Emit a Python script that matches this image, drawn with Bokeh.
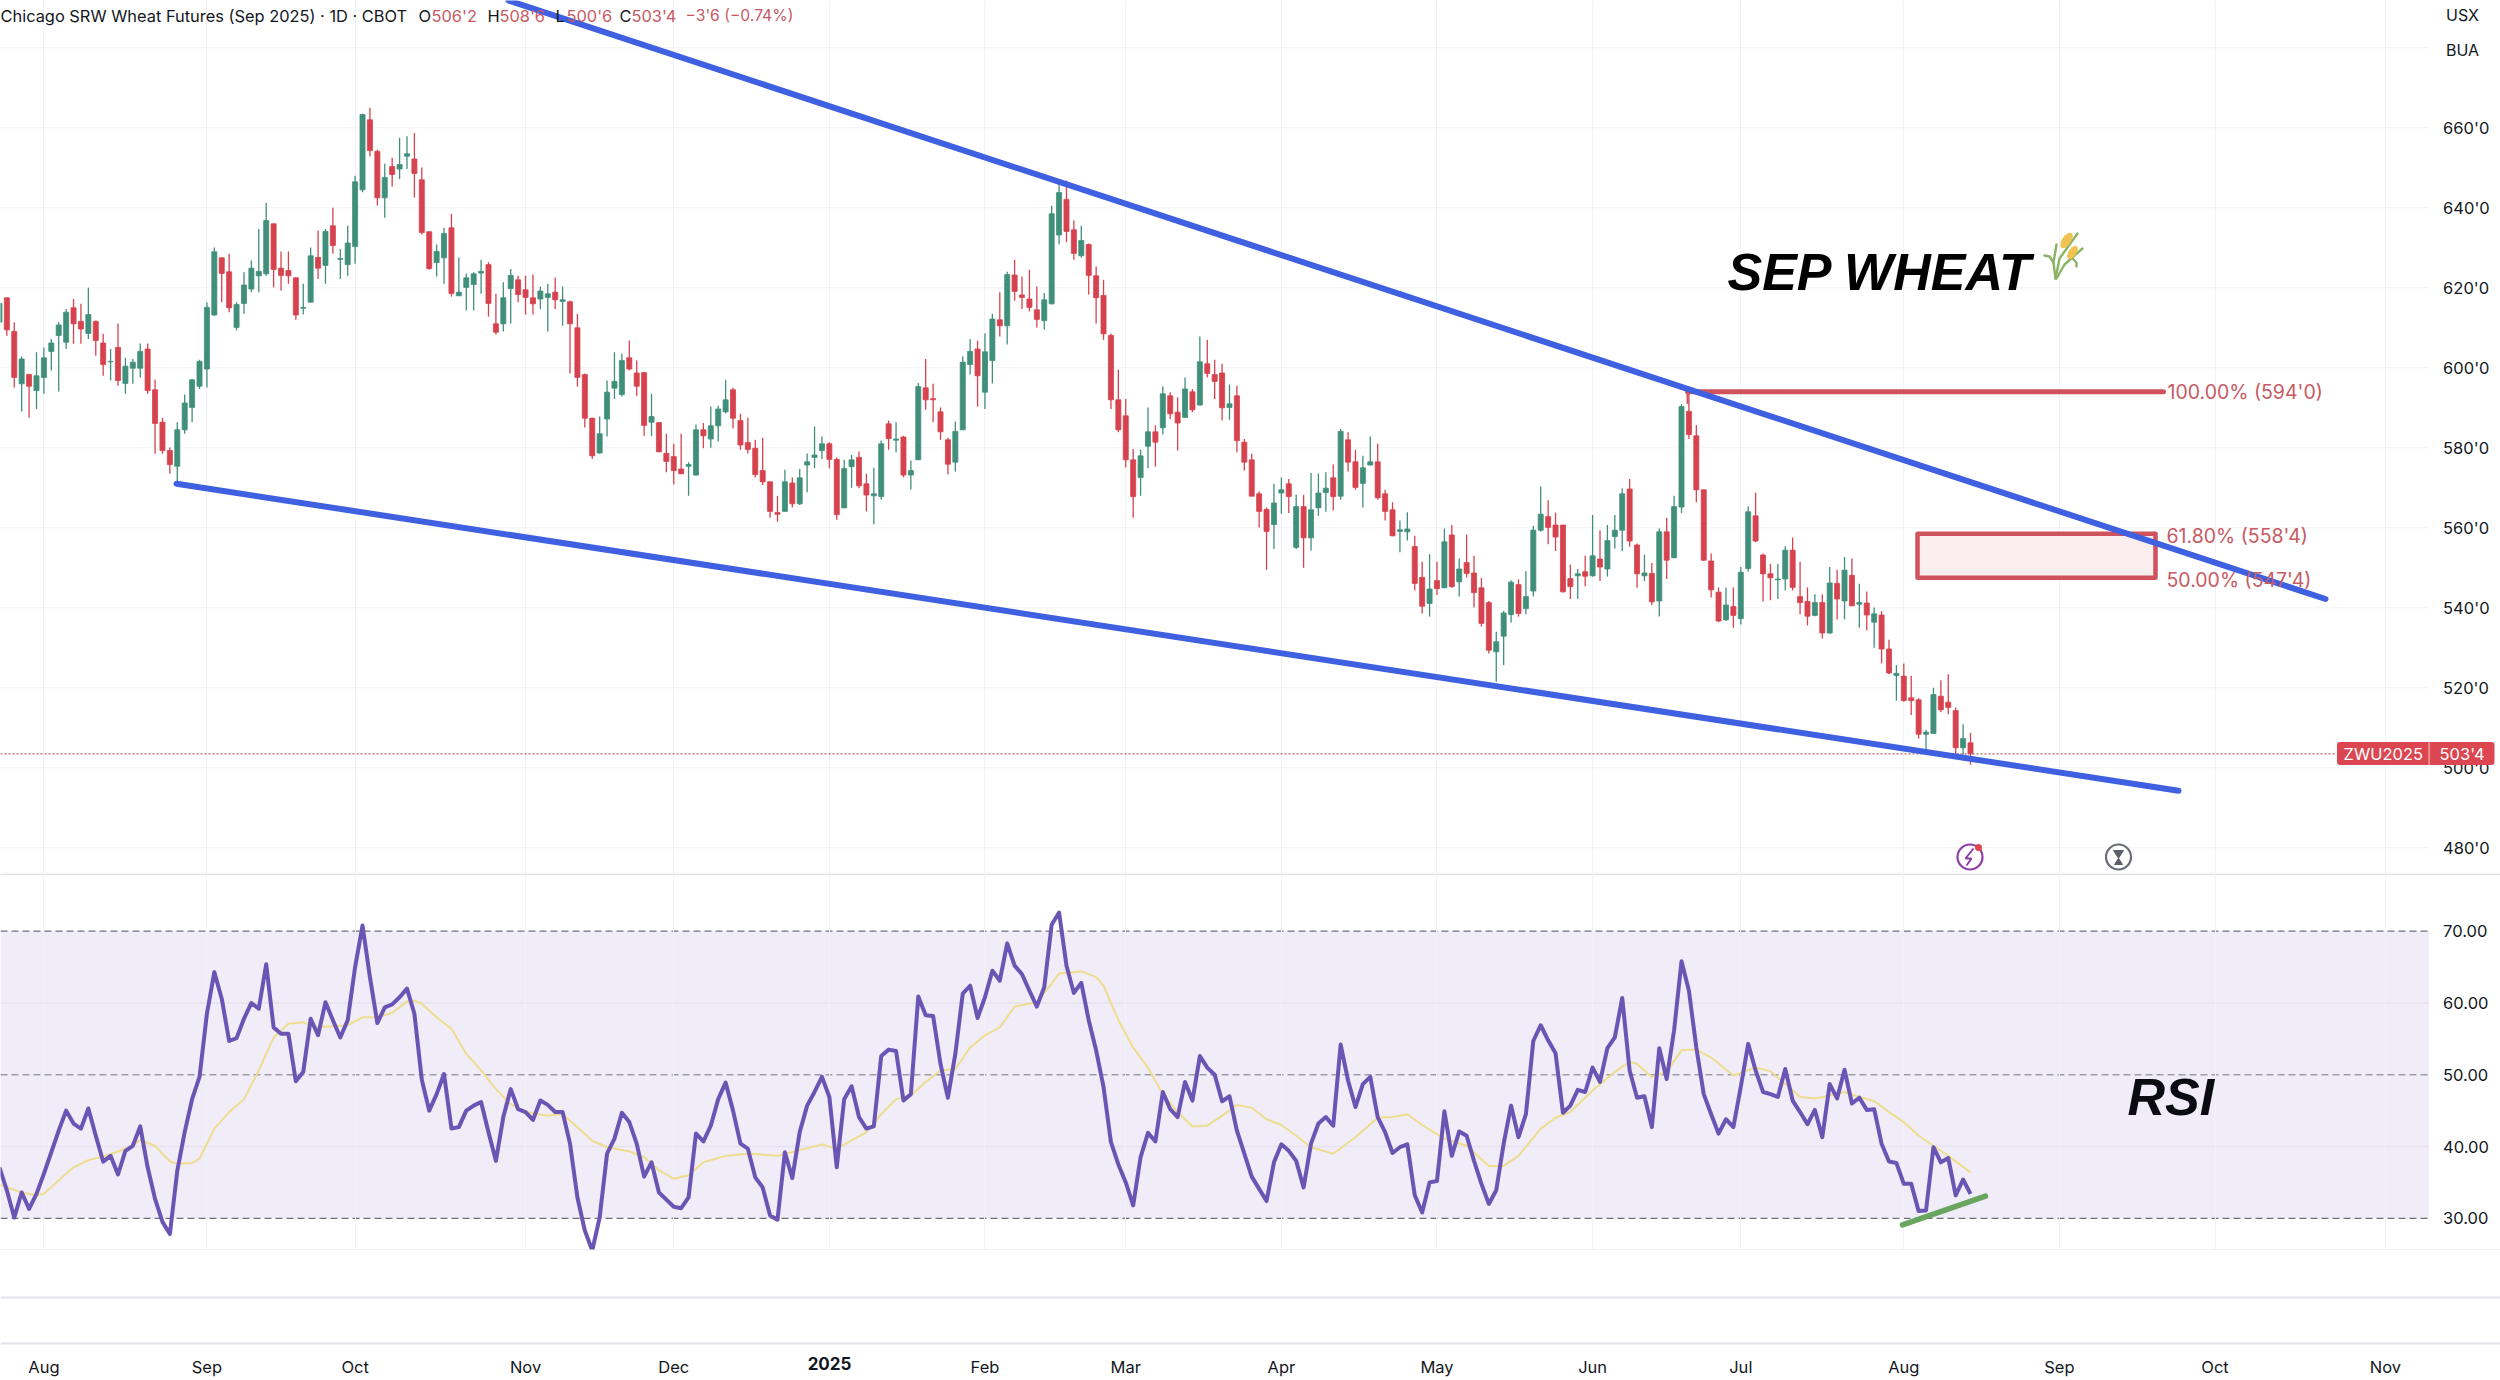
from bokeh.plotting import figure
from bokeh.layouts import column
from bokeh.models import ColumnDataSource, FixedTicker, Label, BoxAnnotation, Range1d
from bokeh.embed import file_html
from bokeh.resources import INLINE

# ------------------------------------------------------------------ data
first_bar = -1
up = ("G" "RRGRGGGGGR" "RGRRGRGGGR" "RRRGGGGGGR" "RGGGGGRRRR" "GGRGRGGGGR" "RGRGGRRRGG" "RGGGGRRGGR"
      "RRGGRGRRRR" "GGGGRRRGRR" "RRGGRGGGRR" "RRRRRGRGGG" "GRRGGRRGGR" "GRGGRRRRGG" "GRGGRGRRRR"
      "GGGRRGRRRR" "RRRGGRGRRG" "RGRRRGRRRR" "RGGRGRGGGR" "GRRGGRRRGG" "RRGRGRGRRR" "RGGGRGGGRR"
      "RRGRGRGGGR" "RGRGRGGRRR" "RRGRGGRRRG" "GRRRGRGRGR" "GRGRRGRRRG" "GRRRGR")
highs = [617.0,
 617.6,611.4,602.8,598.5,603.9,605.1,607.2,611.4,614.7,617.2,
 616.0,620.0,611.8,608.5,604.7,611.1,602.5,602.2,606.1,606.1,
 597.0,587.5,580.1,586.4,593.3,597.2,602.0,616.4,630.1,627.6,
 628.5,616.4,623.9,626.8,634.7,641.2,636.1,629.1,629.1,622.6,
 621.0,630.1,634.3,634.7,640.0,629.7,635.5,648.0,663.5,665.0,
 654.5,651.0,652.5,657.5,657.9,658.7,650.1,634.1,630.8,635.0,
 638.5,627.6,623.6,623.9,627.0,626.4,618.5,621.4,624.7,623.0,
 623.0,623.3,620.3,621.0,622.6,620.3,616.8,613.5,598.6,587.5,
 587.8,596.8,603.9,603.6,606.8,601.8,598.9,593.5,586.4,583.5,
 581.0,583.5,576.4,585.8,586.2,590.3,590.5,597.0,595.0,588.5,
 587.5,582.0,582.5,571.6,568.0,574.5,572.6,574.7,578.6,585.3,
 582.8,581.4,577.6,577.0,578.2,579.1,573.5,575.0,581.8,586.8,
 586.4,583.0,576.8,596.2,602.2,596.0,590.1,582.5,586.6,602.9,
 607.2,606.8,608.6,613.5,618.9,624.0,627.0,622.8,624.5,620.3,
 618.7,640.5,646.8,646.8,636.8,635.5,631.1,625.3,622.0,608.5,
 599.5,592.2,579.7,579.5,590.1,585.6,595.3,593.9,592.6,597.6,
 594.7,607.8,607.0,602.0,601.0,595.8,595.5,582.2,578.5,569.1,
 565.1,571.0,572.6,572.2,568.3,568.2,573.7,573.6,573.9,575.8,
 584.7,583.9,579.5,578.0,582.8,581.0,569.5,566.4,561.8,563.9,
 558.0,551.5,553.4,551.5,559.8,560.7,552.3,558.3,553.0,547.5,
 541.7,534.0,539.2,546.9,547.1,549.2,560.5,570.3,566.9,563.8,
 560.7,550.8,549.7,553.0,563.2,559.4,560.7,563.2,569.8,572.2,
 556.1,553.3,551.2,559.8,562.5,568.0,590.9,594.0,585.7,569.5,
 553.6,545.1,545.1,545.1,550.2,565.4,568.8,553.6,551.0,551.0,
 555.4,557.6,551.5,545.1,543.4,543.3,550.2,549.5,552.7,552.3,
 546.0,544.1,540.1,539.2,532.0,525.7,526.1,523.0,517.4,509.5,
 520.0,521.9,523.4,515.1,510.9,508.75]
body_tops = [616.1,
 617.5,609.1,602.2,598.3,598.0,602.5,606.2,610.7,613.9,615.0,
 611.6,613.3,611.6,606.2,601.6,605.1,600.4,601.4,604.1,604.7,
 594.5,586.4,579.3,584.5,591.2,597.0,601.6,615.1,629.0,627.5,
 624.0,615.8,620.7,624.9,624.1,636.8,636.0,624.9,624.3,622.5,
 615.1,628.0,627.6,634.1,635.5,627.3,631.2,646.5,663.3,662.0,
 654.1,647.6,650.3,650.8,653.5,652.2,647.0,634.0,629.1,633.6,
 635.0,618.9,622.5,623.5,624.1,625.8,611.0,617.5,623.1,622.0,
 619.5,617.5,619.2,618.5,618.9,617.0,616.5,610.0,598.3,587.4,
 583.5,593.9,596.6,601.8,602.5,598.7,598.8,587.8,586.3,578.6,
 577.8,574.7,575.8,584.5,584.5,585.5,589.7,592.0,594.5,586.8,
 581.3,579.9,574.3,571.5,563.8,571.5,571.2,572.5,576.5,578.2,
 581.0,581.0,577.1,574.8,577.0,577.6,571.0,568.5,581.0,586.0,
 582.2,582.7,574.3,595.3,595.0,592.3,589.0,582.0,584.1,601.4,
 604.1,604.7,604.0,612.2,612.0,623.3,623.2,618.2,617.2,614.5,
 617.0,638.5,643.8,642.1,634.5,631.8,630.8,623.0,618.1,608.1,
 592.0,588.0,577.0,578.0,584.0,584.0,593.5,593.0,588.9,594.7,
 594.0,601.5,601.0,598.3,598.7,591.0,593.0,581.4,577.0,568.5,
 564.6,566.2,569.5,571.0,565.3,565.3,564.5,568.7,569.9,572.5,
 584.1,582.0,576.5,575.0,576.5,576.5,568.5,564.5,559.5,559.7,
 555.3,547.6,544.7,546.8,556.5,558.2,549.7,551.3,548.7,545.0,
 541.3,531.5,538.7,546.4,545.8,542.8,559.4,563.4,562.8,560.7,
 560.7,547.3,548.5,549.0,553.0,552.2,556.8,559.4,568.5,569.7,
 555.7,548.7,548.6,559.0,559.0,565.3,590.3,589.1,583.0,569.5,
 551.7,543.9,540.7,540.3,548.9,564.0,563.0,553.2,548.5,547.2,
 554.4,554.4,542.8,541.6,541.3,541.3,546.2,546.1,549.4,548.1,
 541.3,541.2,538.5,538.2,529.7,523.6,522.9,517.5,517.0,508.9,
 518.3,517.9,516.4,514.3,507.3,506.25]
body_bottoms = [611.4,
 609.5,597.6,596.0,595.4,594.3,597.6,604.1,608.1,606.4,611.0,
 609.7,608.6,606.8,600.8,601.5,596.8,596.1,599.9,599.9,594.3,
 586.1,579.3,575.8,575.4,584.5,590.1,595.4,599.7,613.2,623.6,
 615.0,610.1,616.1,619.7,623.0,623.5,624.6,623.1,623.0,613.2,
 614.9,616.4,624.9,625.6,630.6,627.1,625.8,630.3,644.5,654.3,
 642.5,642.5,648.3,649.7,652.9,648.6,633.8,624.8,626.3,627.5,
 618.6,618.0,620.1,620.8,623.7,616.1,608.9,611.0,619.8,618.3,
 617.6,616.0,617.2,617.6,617.0,616.6,611.0,597.6,587.4,578.0,
 578.7,587.2,594.9,593.3,599.7,595.4,585.6,586.4,579.0,576.6,
 574.3,573.5,575.4,573.2,583.0,582.2,585.5,589.0,587.4,580.7,
 579.6,573.3,571.5,564.1,563.4,564.1,566.0,566.0,575.7,577.6,
 579.3,577.1,563.3,565.0,575.3,570.5,568.2,568.0,567.8,582.3,
 581.9,573.2,573.2,577.0,592.0,592.0,584.0,575.9,576.4,584.5,
 600.8,598.0,593.9,601.8,610.5,610.5,619.1,617.6,615.1,612.1,
 611.8,616.0,633.2,634.1,628.6,628.0,623.1,617.5,608.5,592.0,
 584.5,577.0,567.8,572.6,580.4,581.4,585.0,588.5,586.2,587.6,
 589.5,590.7,598.6,596.6,590.0,590.1,581.8,576.4,567.9,564.1,
 559.1,560.8,568.7,567.8,555.1,557.5,557.5,565.0,568.8,567.8,
 567.9,576.4,570.1,571.1,575.7,567.5,564.1,558.0,559.1,559.0,
 546.1,540.4,541.1,544.8,545.0,545.3,546.5,548.6,543.8,536.1,
 529.4,529.0,532.9,538.3,538.6,539.8,544.2,559.4,560.1,557.7,
 544.0,545.3,548.0,547.9,548.0,550.2,549.7,557.8,559.4,556.7,
 548.5,548.0,541.5,541.7,551.9,552.5,565.2,583.3,569.5,551.9,
 544.5,536.7,537.0,538.1,537.3,549.8,556.7,548.5,547.5,547.0,
 547.2,545.1,541.3,537.9,538.1,533.7,533.7,542.2,541.7,540.5,
 540.9,538.2,536.4,529.7,523.7,523.1,516.8,516.8,508.4,508.4,
 508.6,514.5,515.1,505.0,505.0,503.5]
lows = [610.0,
 608.0,595.1,589.1,587.5,589.7,593.5,599.3,594.1,604.7,606.0,
 606.0,607.2,603.0,598.0,596.8,595.5,593.5,596.0,597.6,593.5,
 578.5,578.5,573.5,571.4,583.5,586.4,594.7,595.1,613.0,616.4,
 613.9,609.3,613.5,618.9,618.9,623.0,620.1,619.3,621.0,612.0,
 613.3,616.3,622.2,621.0,628.5,622.2,623.0,626.0,643.9,652.8,
 640.6,637.5,645.3,647.2,649.7,642.6,633.3,624.5,622.8,621.0,
 617.8,618.0,614.3,614.3,618.5,612.8,608.3,609.1,611.1,616.4,
 613.3,613.3,614.7,609.1,614.7,610.5,598.6,595.3,585.1,577.2,
 578.5,582.8,592.2,592.8,599.3,593.0,583.0,583.0,578.9,573.9,
 570.8,573.5,568.0,573.0,579.9,580.0,581.6,588.6,584.9,579.5,
 578.6,572.6,570.7,562.5,561.5,564.1,565.1,565.7,568.9,574.9,
 577.2,574.9,562.0,564.9,570.0,569.9,564.1,560.9,567.0,579.5,
 578.9,572.6,569.6,577.0,589.5,586.4,582.0,573.3,574.1,584.5,
 598.3,590.3,589.7,596.1,607.8,605.8,616.8,614.7,614.1,610.1,
 609.6,615.8,630.9,631.4,627.0,627.6,618.3,611.1,607.0,589.7,
 583.9,575.1,562.5,568.0,574.9,575.3,583.3,587.2,579.3,587.5,
 588.9,590.5,597.6,592.2,586.8,587.0,578.9,574.3,567.9,560.1,
 549.5,554.7,563.5,563.7,554.7,550.0,554.3,563.0,564.0,564.3,
 567.0,574.1,569.5,565.1,575.6,567.0,561.8,557.9,553.9,556.8,
 544.3,538.6,537.8,543.2,545.0,545.0,542.8,547.6,540.1,535.3,
 528.6,521.5,525.7,536.3,537.8,538.4,542.8,559.0,555.9,554.2,
 543.8,542.2,542.2,545.4,547.8,546.7,547.8,554.8,554.2,555.3,
 545.0,546.7,540.7,537.8,547.2,552.5,563.7,582.2,566.4,551.7,
 542.6,536.4,536.7,535.0,535.8,549.1,556.4,541.6,541.9,542.2,
 544.3,544.3,538.4,535.6,537.9,532.3,533.5,537.1,537.1,540.5,
 535.0,534.3,530.0,526.1,523.4,516.8,516.5,513.2,507.3,503.7,
 508.5,513.9,513.4,503.3,503.3,500.75]
rsi = [37.1,
 33.9,30.1,33.6,31.3,33.4,36.2,39.2,42.2,45.0,43.2,
 42.5,45.3,41.5,37.9,38.7,36.1,39.4,40.1,42.8,37.1,
 32.7,29.5,27.8,36.6,42.0,46.6,49.7,58.5,64.3,60.6,
 54.7,55.1,57.8,60.0,59.2,65.4,56.6,55.7,55.7,49.1,
 50.4,57.8,55.5,60.1,57.6,55.2,57.6,65.0,70.8,63.6,
 57.2,59.4,59.8,60.8,62.0,58.5,49.3,45.0,47.3,50.1,
 42.5,42.7,45.0,45.7,46.2,42.0,38.0,44.1,48.0,45.2,
 44.8,43.7,46.4,45.8,44.8,44.8,40.4,32.9,28.3,25.5,
 30.1,39.0,41.1,44.7,43.4,40.4,35.8,37.8,33.6,32.6,
 31.6,31.4,32.9,41.8,40.7,42.9,46.6,48.9,45.0,40.4,
 39.7,35.7,34.3,30.4,29.8,39.2,35.6,42.0,45.7,47.6,
 49.7,46.9,37.1,46.6,48.4,44.1,42.5,42.8,52.6,53.5,
 53.3,46.4,47.3,60.9,58.3,58.2,51.5,46.8,52.9,61.3,
 62.4,57.9,60.8,64.5,63.1,68.3,65.2,64.0,61.7,59.5,
 62.2,70.9,72.6,65.2,61.4,62.8,57.6,53.4,48.3,40.6,
 37.5,35.0,31.8,38.5,41.9,40.7,47.6,45.2,44.1,49.0,
 46.4,52.6,51.0,50.0,46.3,47.0,42.2,39.0,35.8,34.1,
 32.4,37.8,40.3,39.4,38.0,34.3,40.4,43.2,44.1,42.9,
 54.2,49.2,45.5,48.7,49.7,44.1,42.0,39.1,39.9,40.3,
 33.2,30.8,35.0,35.2,44.9,38.7,42.1,41.5,38.0,34.8,
 32.0,33.9,40.4,45.7,41.3,44.5,54.7,56.9,54.8,53.0,
 44.7,45.7,47.9,47.6,51.0,49.0,53.7,55.2,60.7,50.6,
 46.8,47.0,42.7,53.7,49.4,56.2,65.8,61.7,53.8,47.3,
 44.5,41.8,43.8,42.7,48.3,54.3,50.6,47.6,47.3,46.9,
 50.8,46.4,44.8,43.1,45.1,41.3,48.7,46.7,50.7,46.0,
 46.8,45.1,45.2,40.4,37.9,37.7,34.8,34.8,31.0,31.1,
 39.9,37.8,38.4,33.2,35.4,33.4]
rsi_ma_bars = [-1,2,4,5,7,9,11,13,15,17,18,20,22,23,25,26,28,30,32,34,36,38,40,42,46,48,50,52,54,55,56,58,60,62,64,66,68,70,73,75,77,79,81,84,86,88,90,92,94,97,100,104,107,110,
 112,116,118,120,122,124,126,128,130,132,134,136,139,141,142,145,147,148,150,152,154,156,158,160,162,164,166,168,170,172,174,176,179,182,185,187,189,191,194,197,200,202,204,207,209,211,214,217,219,220,222,
 224,226,228,230,233,236,238,240,242,244,246,248,250,252,254,256,258,260,262,265]
rsi_ma = [34.7,33.6,33.2,33.4,35.3,37.1,38.1,38.6,39.3,40.1,40.9,40.1,37.9,37.6,37.7,38.3,42.5,44.8,46.6,50.6,55.2,57.1,57.3,56.6,56.9,58.0,58.0,58.6,60.2,60.3,59.9,58.0,56.4,52.9,50.6,48.0,45.9,44.8,44.3,44.5,42.7,40.8,39.9,39.3,38.5,36.7,35.5,36.0,37.8,38.7,39.0,38.7,39.5,40.3,
 39.7,42.0,44.5,46.6,47.1,49.0,50.6,50.8,53.8,55.5,56.6,59.5,60.1,62.7,64.1,64.4,63.6,62.4,57.6,53.8,51.0,47.3,44.8,42.8,42.9,44.3,45.8,45.4,43.8,43.0,41.5,39.9,39.0,41.3,44.0,44.1,44.5,43.0,41.1,40.1,37.3,37.3,38.7,42.5,44.0,44.8,47.8,50.4,51.8,51.5,49.7,
 50.4,53.4,53.5,52.4,49.9,51.0,50.5,48.7,46.9,46.7,47.1,47.6,46.9,46.3,44.8,43.4,41.5,40.1,38.7,36.4]
price_ticks = [480, 500, 520, 540, 560, 580, 600, 620, 640, 660]
price_grid = price_ticks + [680]
price_tick_labels = ["480'0", "500'0", "520'0", "540'0", "560'0", "580'0", "600'0", "620'0", "640'0", "660'0"]
rsi_ticks = [30, 40, 50, 60, 70]
rsi_tick_labels = ["30.00", "40.00", "50.00", "60.00", "70.00"]
month_bars = [5, 27, 47, 70, 90, 111, 132, 151, 172, 193, 214, 234, 256, 277, 298, 321]
month_labels = ["Aug", "Sep", "Oct", "Nov", "Dec", "", "Feb", "Mar", "Apr", "May", "Jun", "Jul", "Aug", "Sep", "Oct", "Nov"]

assert len(up) == len(highs) == len(body_tops) == len(body_bottoms) == len(lows) == len(rsi)
assert len(rsi_ma_bars) == len(rsi_ma)

# ------------------------------------------------------------------ layout helpers
BAR0, BARW = 6.35, 7.41
AXIS_X = 2428.6
FONT = "Inter"
TXT = "#131722"
RED = "#d6424e"
GREEN = "#408f7a"
FIB = "#cf525c"
FIBTXT = "#c65a64"
BLUE = "#3f60e0"
RULE = "#e3e4e9"
GRID = "#f1f2f6"

def xp(px):
    return (px - BAR0) / BARW
def yp(py):
    return 600 - (py - 367.3) / 4
def yr(py):
    return 70 - (py - 930.7) / 7.177
def yb(py):
    return (1343 - py) / 93

x_range = Range1d(xp(0), xp(2500))

def pane(height, y_range):
    f = figure(frame_width=2500, frame_height=height, x_range=x_range, y_range=y_range,
               y_axis_location="right", toolbar_location=None, output_backend="svg",
               min_border=0,
               outline_line_color=None, background_fill_color="white", border_fill_color="white")
    f.xgrid.ticker = FixedTicker(ticks=month_bars)
    f.xgrid.grid_line_color = GRID
    f.xgrid.grid_line_width = 1
    f.ygrid.visible = False
    f.yaxis.fixed_location = xp(AXIS_X)
    f.yaxis.axis_line_color = None
    f.yaxis.major_tick_line_color = None
    f.yaxis.minor_tick_line_color = None
    f.yaxis.major_label_text_color = TXT
    f.yaxis.major_label_text_font = FONT
    f.yaxis.major_label_text_font_size = "16.5px"
    f.yaxis.major_label_standoff = 8
    return f

def hlines(f, levels, color=GRID, width=1, dash="solid"):
    f.segment([xp(0)] * len(levels), levels, [xp(AXIS_X)] * len(levels), levels,
              line_color=color, line_width=width, line_dash=dash, level="underlay")

def txt(f, s, x, y, color=TXT, size="16.5px", align="left", style="normal", font=FONT, **kw):
    f.add_layout(Label(x=x, y=y, text=s, text_color=color, text_font=font, text_font_size=size,
                       text_align=align, text_baseline="middle", text_font_style=style, **kw))

def rule(f, conv, py):
    f.add_layout(BoxAnnotation(left=xp(0), right=xp(2500), top=conv(py - 1), bottom=conv(py + 1),
                               fill_color=RULE, fill_alpha=1, line_color=None, level="overlay"))

bars = list(range(first_bar, first_bar + len(highs)))
colors = [GREEN if c == "G" else RED for c in up]

# ------------------------------------------------------------------ price pane
p = pane(875, Range1d(yp(875), yp(0)))
p.xaxis.visible = False
p.yaxis.ticker = FixedTicker(ticks=price_ticks)
p.yaxis.major_label_overrides = dict(zip(price_ticks, price_tick_labels))
hlines(p, price_grid)

src = ColumnDataSource(dict(x=bars, high=highs, low=lows, top=body_tops, bottom=body_bottoms, color=colors))
p.segment("x", "high", "x", "low", source=src, line_color="color", line_width=1.3)
p.vbar("x", 0.68, "top", "bottom", source=src, fill_color="color", line_color="color", line_width=0.8)

last_close = body_bottoms[-1]
p.line([xp(0), xp(2336)], [last_close, last_close], line_color="#b8626c", line_width=1.3, line_dash="2 2")

# Fibonacci zone and levels
p.quad(left=[xp(1917)], right=[xp(2155)], top=[558.5], bottom=[547.5], fill_color="#fbeeef",
       line_color=FIB, line_width=4.5, line_join="round")
p.line([xp(1687), xp(2163)], [594.0, 594.0], line_color=FIB, line_width=5, line_cap="round")
p.line([xp(1687), xp(1687)], [594.0, 591.0], line_color=FIB, line_width=2)
txt(p, "100.00% (594'0)", xp(2167), yp(391.5), FIBTXT, "19.5px")
txt(p, "61.80% (558'4)", xp(2166), yp(535), FIBTXT, "19.5px")
txt(p, "50.00% (547'4)", xp(2166), yp(579), FIBTXT, "19.5px")

# trend lines
p.line([xp(508), xp(2325)], [yp(0), yp(598.5)], line_color=BLUE, line_width=6, line_cap="round")
p.line([xp(176), xp(2178)], [yp(483.3), yp(790.2)], line_color=BLUE, line_width=6, line_cap="round")

# header
hy = yp(15)
txt(p, "Chicago SRW Wheat Futures (Sep 2025) · 1D · CBOT", xp(0), hy, TXT, "16.4px")
for s, px, col, fs in [("O", 418, TXT, "16.4px"), ("506'2", 431, FIBTXT, "16.4px"), ("H", 487, TXT, "16.4px"),
                       ("508'6", 499, FIBTXT, "16.4px"), ("L", 555, TXT, "16.4px"), ("500'6", 566, FIBTXT, "16.4px"),
                       ("C", 619, TXT, "16.4px"), ("503'4", 631, FIBTXT, "16.4px"),
                       ("−3'6 (−0.74%)", 685, FIBTXT, "15.7px")]:
    txt(p, s, xp(px), hy, col, fs)
txt(p, "USX", xp(2462), yp(14), TXT, "16px", "center")
txt(p, "BUA", xp(2462), yp(49), TXT, "16px", "center")

# annotation text and the wheat glyph
txt(p, "SEP WHEAT", xp(1727), yp(271), "#000000", "52px", "left", "bold italic", "Liberation Sans")
wheat = "#8ab463"
for pts in [[(2055, 278), (2053, 262), (2056, 244)],
            [(2055, 278), (2059, 258), (2077, 233)],
            [(2056, 278), (2064, 264), (2082, 248)],
            [(2053, 262), (2049, 256), (2044, 255)],
            [(2072, 258), (2076, 262), (2076, 266)]]:
    p.line([xp(a) for a, b in pts], [yp(b) for a, b in pts], line_color=wheat, line_width=2.4, line_cap="round")
p.ellipse([xp(2066)], [yp(240)], width=9 / BARW, height=18 / 4, angle=-0.6, fill_color="#f0c252", line_color=None)
p.ellipse([xp(2072)], [yp(252)], width=8 / BARW, height=15 / 4, angle=-0.6, fill_color="#f0c252", line_color=None)

# small round chart icons
p.scatter([xp(1969.5)], [yp(856.5)], size=25, marker="circle", fill_color="white", line_color="#8e3fa8", line_width=2.2)
pts = [(1973, 848), (1965, 858), (1971, 858), (1966, 865)]
p.line([xp(a) for a, b in pts], [yp(b) for a, b in pts], line_color="#8e3fa8", line_width=2)
p.scatter([xp(1978)], [yp(847)], size=7, marker="circle", fill_color="#e0454f", line_color=None)
p.scatter([xp(2118)], [yp(856.5)], size=25, marker="circle", fill_color="white", line_color="#6a6d78", line_width=2.2)
p.patch([xp(a) for a in (2113, 2123, 2114, 2122)], [yp(b) for b in (850, 850, 864, 864)], fill_color="#5d5f68", line_color="#5d5f68")

# last-price tag
p.add_layout(BoxAnnotation(left=xp(2336.5), right=xp(2494), top=yp(741.5), bottom=yp(764.5), border_radius=3,
                           fill_color="#dc4650", fill_alpha=1, line_color=None, level="overlay"))
p.add_layout(BoxAnnotation(left=xp(2428), right=xp(2429.2), top=yp(741.5), bottom=yp(764.5),
                           fill_color="#f2b5b9", fill_alpha=1, line_color=None, level="overlay"))
txt(p, "ZWU2025", xp(2343), last_close, "white", "16.5px", level="overlay")
txt(p, "503'4", xp(2439), last_close, "white", "16.5px", level="overlay")
rule(p, yp, 874)

# ------------------------------------------------------------------ RSI pane
r = pane(375, Range1d(yr(1250), yr(875)))
r.xaxis.visible = False
r.yaxis.ticker = FixedTicker(ticks=rsi_ticks)
r.yaxis.major_label_overrides = dict(zip(rsi_ticks, rsi_tick_labels))
r.quad(left=[xp(0)], right=[xp(AXIS_X)], bottom=[30], top=[70], fill_color="#7e57c2", fill_alpha=0.115,
       line_color=None, level="underlay")
hlines(r, [40, 60], color="#e6e3ee", width=1.5)
hlines(r, [70, 30], color="#6e717c", width=1.3, dash="7 4")
hlines(r, [50], color="#9a9ca6", width=1.3, dash="7 4")
r.line(rsi_ma_bars, rsi_ma, line_color="#eedd8e", line_width=2)
r.line(bars, rsi, line_color="#6b55b4", line_width=4, line_join="round")
r.line([xp(1902), xp(1985)], [yr(1224.3), yr(1195.7)], line_color="#6aa55f", line_width=5.5, line_cap="round")
txt(r, "RSI", xp(2127), yr(1096), "#0b0b12", "52px", "left", "bold italic", "Liberation Sans")
rule(r, yr, 1250)

# ------------------------------------------------------------------ empty pane + time axis
b = pane(130, Range1d(yb(1380), yb(1250)))
b.yaxis.visible = False
b.xgrid.visible = False
b.xaxis.fixed_location = yb(1343)
b.xaxis.ticker = FixedTicker(ticks=month_bars)
b.xaxis.major_label_overrides = dict(zip(month_bars, month_labels))
b.xaxis.axis_line_color = None
b.xaxis.major_tick_line_color = None
b.xaxis.minor_tick_line_color = None
b.xaxis.major_label_text_color = TXT
b.xaxis.major_label_text_font = FONT
b.xaxis.major_label_text_font_size = "16.5px"
b.xaxis.major_label_standoff = 7
rule(b, yb, 1297)
rule(b, yb, 1343)
txt(b, "2025", xp(829), yb(1363), TXT, "17px", "center", "bold")

page = column(p, r, b, spacing=0)
open("out.html", "w").write(file_html(page, INLINE))
